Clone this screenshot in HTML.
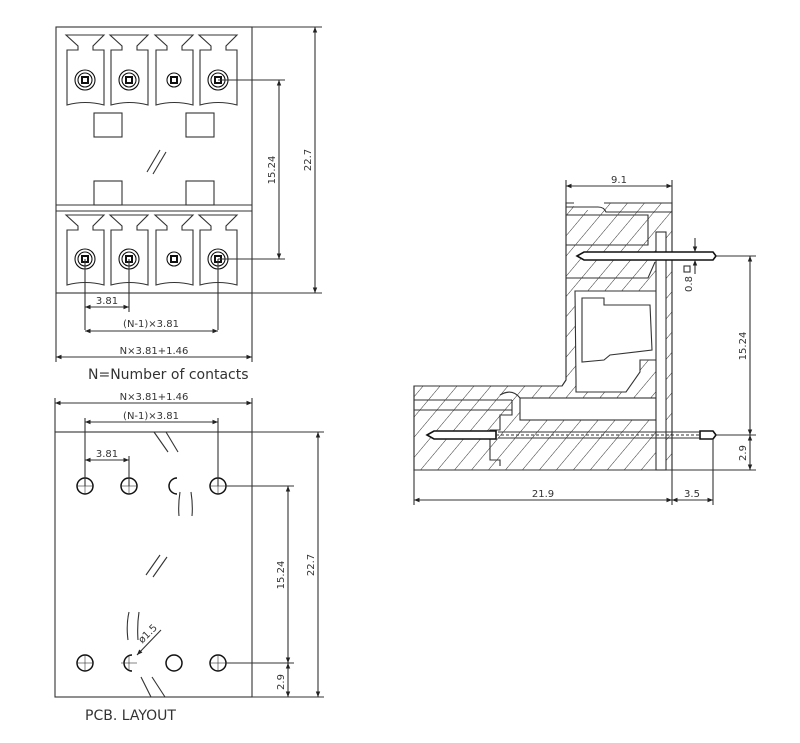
<!DOCTYPE html>
<html><head><meta charset="utf-8"><style>
body{margin:0;background:#fff}
svg{display:block}
text{font-family:"DejaVu Sans","Liberation Sans",sans-serif;fill:#333}
</style></head><body>
<svg width="800" height="743" viewBox="0 0 800 743" xmlns="http://www.w3.org/2000/svg">
<defs>
<marker id="a" viewBox="0 0 10 10" refX="10" refY="5" markerWidth="7" markerHeight="5" orient="auto-start-reverse"><path d="M0,1 L10,5 L0,9 z" fill="#222"/></marker>
<pattern id="h" width="13" height="13" patternUnits="userSpaceOnUse" patternTransform="rotate(40)"><line x1="0" y1="0" x2="0" y2="13" stroke="#333" stroke-width="1"/></pattern>
</defs>
<g fill="none" stroke="#333" stroke-width="1.1">
<!-- TOP VIEW -->
<rect x="56" y="27" width="196" height="266"/>
<line x1="56" y1="205" x2="252" y2="205"/>
<line x1="56" y1="211" x2="252" y2="211"/>
<g id="cells">
<path d="M66,35 L104,35 L93,46 L93,50 L104,50 L104,105 Q85,100 67,105 L67,50 L78,50 L78,46 Z"/>
<path d="M110,35 L148,35 L137,46 L137,50 L148,50 L148,105 Q129,100 111,105 L111,50 L122,50 L122,46 Z"/>
<path d="M155,35 L193,35 L182,46 L182,50 L193,50 L193,105 Q174,100 156,105 L156,50 L167,50 L167,46 Z"/>
<path d="M199,35 L237,35 L226,46 L226,50 L237,50 L237,105 Q218,100 200,105 L200,50 L211,50 L211,46 Z"/>
</g>
<use href="#cells" transform="translate(0,180)"/>
<rect x="94" y="113" width="28" height="24"/>
<rect x="186" y="113" width="28" height="24"/>
<rect x="94" y="181" width="28" height="24"/>
<rect x="186" y="181" width="28" height="24"/>
<line x1="147" y1="172" x2="160" y2="150"/><line x1="153" y1="174" x2="166" y2="152"/>
<g id="pins" stroke="#111">
<circle cx="85" cy="80" r="10"/><circle cx="85" cy="80" r="7"/><rect x="82" y="77" width="6" height="6" stroke-width="2"/>
<circle cx="129" cy="80" r="10"/><circle cx="129" cy="80" r="7"/><rect x="126" y="77" width="6" height="6" stroke-width="2"/>
<circle cx="174" cy="80" r="7"/><rect x="171" y="77" width="6" height="6" stroke-width="2"/>
<circle cx="218" cy="80" r="10"/><circle cx="218" cy="80" r="7"/><rect x="215" y="77" width="6" height="6" stroke-width="2"/>
</g>
<use href="#pins" transform="translate(0,179)"/>
<!-- dims top -->
<line x1="252" y1="27" x2="322" y2="27"/><line x1="252" y1="293" x2="322" y2="293"/>
<line x1="315" y1="27" x2="315" y2="293" marker-start="url(#a)" marker-end="url(#a)"/>
<line x1="218" y1="80" x2="285" y2="80"/><line x1="218" y1="259" x2="285" y2="259"/>
<line x1="279" y1="80" x2="279" y2="259" marker-start="url(#a)" marker-end="url(#a)"/>
<line x1="85" y1="259" x2="85" y2="330"/><line x1="129" y1="259" x2="129" y2="312"/><line x1="218" y1="259" x2="218" y2="330"/>
<line x1="85" y1="307" x2="129" y2="307" marker-start="url(#a)" marker-end="url(#a)"/>
<line x1="85" y1="331" x2="218" y2="331" marker-start="url(#a)" marker-end="url(#a)"/>
<line x1="56" y1="293" x2="56" y2="362"/><line x1="252" y1="293" x2="252" y2="362"/>
<line x1="56" y1="357" x2="252" y2="357" marker-start="url(#a)" marker-end="url(#a)"/>
<!-- PCB -->
<rect x="55" y="432" width="197" height="265"/>
<g stroke="#111" stroke-width="1.5">
<circle cx="85" cy="486" r="8"/><circle cx="129" cy="486" r="8"/><path d="M177,478 A8,8 0 1 0 177,494"/><circle cx="218" cy="486" r="8"/>
<circle cx="85" cy="663" r="8"/><path d="M132,655 A8,8 0 1 0 132,671"/><circle cx="174" cy="663" r="8"/><circle cx="218" cy="663" r="8"/>
</g>
<g stroke-width="0.6">
<line x1="77" y1="486" x2="93" y2="486"/><line x1="85" y1="478" x2="85" y2="494"/>
<line x1="121" y1="486" x2="137" y2="486"/><line x1="129" y1="478" x2="129" y2="494"/>
<line x1="210" y1="486" x2="226" y2="486"/><line x1="218" y1="478" x2="218" y2="494"/>
<line x1="77" y1="663" x2="93" y2="663"/><line x1="85" y1="655" x2="85" y2="671"/>
<line x1="121" y1="663" x2="137" y2="663"/><line x1="129" y1="655" x2="129" y2="671"/>
<line x1="210" y1="663" x2="226" y2="663"/><line x1="218" y1="655" x2="218" y2="671"/>
</g>
<line x1="154" y1="432" x2="168" y2="452"/><line x1="166" y1="432" x2="178" y2="452"/>
<line x1="146" y1="575" x2="160" y2="555"/><line x1="153" y1="577" x2="167" y2="557"/>
<line x1="141" y1="677" x2="151" y2="697"/><line x1="152" y1="677" x2="165" y2="697"/>
<path d="M180,492 Q178,505 179,516"/><path d="M191,492 Q193,505 192,516"/>
<path d="M129,612 Q126,625 128,640"/><path d="M139,612 Q137,625 138,640"/>
<line x1="161" y1="630" x2="137" y2="655" marker-end="url(#a)"/>
<line x1="85" y1="486" x2="85" y2="418"/><line x1="129" y1="486" x2="129" y2="456"/><line x1="218" y1="486" x2="218" y2="418"/>
<line x1="85" y1="460" x2="129" y2="460" marker-start="url(#a)" marker-end="url(#a)"/>
<line x1="85" y1="422" x2="218" y2="422" marker-start="url(#a)" marker-end="url(#a)"/>
<line x1="55" y1="432" x2="55" y2="398"/><line x1="252" y1="432" x2="252" y2="398"/>
<line x1="55" y1="403" x2="252" y2="403" marker-start="url(#a)" marker-end="url(#a)"/>
<line x1="252" y1="432" x2="324" y2="432"/><line x1="252" y1="697" x2="324" y2="697"/>
<line x1="318" y1="432" x2="318" y2="697" marker-start="url(#a)" marker-end="url(#a)"/>
<line x1="226" y1="486" x2="294" y2="486"/><line x1="226" y1="663" x2="294" y2="663"/>
<line x1="288" y1="486" x2="288" y2="663" marker-start="url(#a)" marker-end="url(#a)"/>
<line x1="288" y1="663" x2="288" y2="697" marker-start="url(#a)" marker-end="url(#a)"/>
<!-- SIDE VIEW -->
<path d="M566,203 L672,203 L672,470 L414,470 L414,386 L562,386 L566,380 Z" fill="url(#h)"/>
<path d="M566,203 L672,203 L672,470 L414,470 L414,386 L562,386 L566,380 Z"/>
<path d="M576,291 L658,291 L658,360 L640,360 L640,372 L626,392 L576,392 L576,380 L575,291 Z" fill="#fff"/>
<path d="M582,298 L604,298 L604,305 L650,305 L652,350 L610,355 L604,360 L582,362 Z" fill="#fff"/>
<path d="M574,200 L604,200 L604,210 L574,210Z" fill="#fff" stroke="none"/>
<path d="M566,207 L598,207 Q604,207 606,212 L672,212"/>
<path d="M566,215 L648,215 L648,245 L566,245"/>
<path d="M566,278 L648,278 L655,262"/>
<rect x="520" y="398" width="136" height="22" fill="#fff"/>
<path d="M414,400 L512,400 M414,410 L512,410 M512,400 L512,415 L500,415 L500,430 L490,430 L490,460 L500,460 L500,466"/>
<rect x="656" y="232" width="10" height="238" fill="#fff"/>
<path d="M500,395 Q512,388 520,398"/>
</g>
<g stroke="#111" stroke-width="1.6" fill="#fff">
<path d="M577,256 L584,252 L713,252 L716,256 L713,260 L584,260 Z"/>
<path d="M427,435 L434,431 L496,431 L496,439 L434,439 Z"/>
<path d="M700,431 L713,431 L716,435 L713,439 L700,439 Z"/>
</g>
<g fill="none" stroke="#333" stroke-width="1.1">
<line x1="496" y1="435" x2="700" y2="435" stroke-dasharray="3,2"/>
<line x1="498" y1="432" x2="700" y2="432"/><line x1="498" y1="438" x2="700" y2="438"/>
<line x1="566" y1="203" x2="566" y2="180"/><line x1="672" y1="203" x2="672" y2="180"/>
<line x1="566" y1="186" x2="672" y2="186" marker-start="url(#a)" marker-end="url(#a)"/>
<line x1="716" y1="256" x2="756" y2="256"/><line x1="716" y1="435" x2="756" y2="435"/><line x1="672" y1="470" x2="756" y2="470"/>
<line x1="750" y1="256" x2="750" y2="435" marker-start="url(#a)" marker-end="url(#a)"/>
<line x1="750" y1="435" x2="750" y2="470" marker-start="url(#a)" marker-end="url(#a)"/>
<line x1="414" y1="470" x2="414" y2="505"/><line x1="672" y1="470" x2="672" y2="505"/><line x1="713" y1="439" x2="713" y2="505"/>
<line x1="414" y1="500" x2="672" y2="500" marker-start="url(#a)" marker-end="url(#a)"/>
<line x1="672" y1="500" x2="713" y2="500" marker-start="url(#a)" marker-end="url(#a)"/>
<line x1="695" y1="238" x2="695" y2="252" marker-end="url(#a)"/><line x1="695" y1="274" x2="695" y2="260" marker-end="url(#a)"/>
<rect x="684" y="266" width="6" height="6"/>
</g>
<g font-size="10">
<text x="107" y="304" text-anchor="middle">3.81</text>
<text x="151" y="327" text-anchor="middle">(N-1)×3.81</text>
<text x="154" y="354" text-anchor="middle">N×3.81+1.46</text>
<text transform="translate(311,160) rotate(-90)" text-anchor="middle">22.7</text>
<text transform="translate(275,170) rotate(-90)" text-anchor="middle">15.24</text>
<text x="154" y="400" text-anchor="middle">N×3.81+1.46</text>
<text x="151" y="419" text-anchor="middle">(N-1)×3.81</text>
<text x="107" y="457" text-anchor="middle">3.81</text>
<text transform="translate(314,565) rotate(-90)" text-anchor="middle">22.7</text>
<text transform="translate(284,575) rotate(-90)" text-anchor="middle">15.24</text>
<text transform="translate(284,682) rotate(-90)" text-anchor="middle">2.9</text>
<text transform="translate(150,636) rotate(-45)" text-anchor="middle">ø1.5</text>
<text x="619" y="183" text-anchor="middle">9.1</text>
<text transform="translate(746,346) rotate(-90)" text-anchor="middle">15.24</text>
<text transform="translate(746,453) rotate(-90)" text-anchor="middle">2.9</text>
<text x="543" y="497" text-anchor="middle">21.9</text>
<text x="692" y="497" text-anchor="middle">3.5</text>
<text transform="translate(692,284) rotate(-90)" text-anchor="middle">0.8</text>
</g>
<text x="88" y="379" font-size="14">N=Number of contacts</text>
<text x="85" y="720" font-size="14">PCB. LAYOUT</text>
</svg>
</body></html>
